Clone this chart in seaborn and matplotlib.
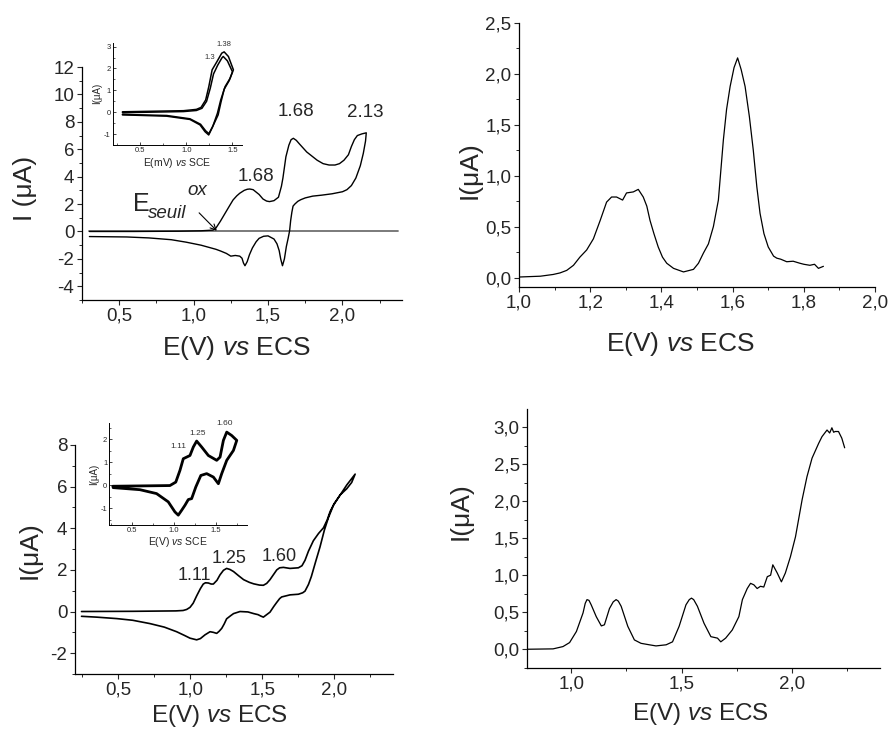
import matplotlib
matplotlib.use("Agg")
import matplotlib.pyplot as plt
from matplotlib.ticker import MultipleLocator, FuncFormatter
import seaborn as sns

# ============================================================================
# DATA
# ============================================================================

# Panel A - cyclic voltammogram (forward scan then return scan)
CV_A_E = [0.30, 0.60, 0.90, 1.05, 1.13, 1.15, 1.18, 1.21, 1.24, 1.265, 1.29, 1.31, 1.34, 1.36,
          1.377, 1.40, 1.44, 1.466, 1.49, 1.51, 1.54, 1.57, 1.59, 1.60, 1.62, 1.64, 1.655, 1.67,
          1.69, 1.71, 1.76, 1.83, 1.87, 1.91, 1.95, 1.98, 2.01, 2.04, 2.06, 2.08, 2.10, 2.13, 2.16,
          2.155, 2.14, 2.12, 2.09, 2.06, 2.03, 2.00, 1.93, 1.86, 1.80, 1.75, 1.72, 1.70, 1.68,
          1.668, 1.66, 1.652, 1.645, 1.635, 1.623, 1.61, 1.597, 1.585, 1.575, 1.56, 1.54, 1.50,
          1.47, 1.44, 1.42, 1.395, 1.375, 1.36, 1.345, 1.335, 1.325, 1.31, 1.28, 1.25, 1.22,
          1.18, 1.15, 1.05, 0.95, 0.85, 0.70, 0.55, 0.30]
CV_A_I = [0.00, 0.00, 0.02, 0.05, 0.10, 0.25, 0.75, 1.30, 1.85, 2.30, 2.60, 2.79, 3.00, 3.08,
          3.10, 3.05, 2.70, 2.37, 2.22, 2.18, 2.25, 2.50, 3.30, 3.90, 5.45, 6.30, 6.70, 6.80,
          6.65, 6.40, 5.80, 5.20, 4.95, 4.85, 4.85, 4.95, 5.20, 5.60, 6.20, 6.70, 7.00, 7.12, 7.20,
          6.60, 5.70, 4.80, 3.90, 3.35, 3.05, 2.90, 2.75, 2.65, 2.58, 2.45, 2.32, 2.20, 2.00,
          1.85, 1.40, 0.80, 0.06, -0.50, -1.10, -2.00, -2.50, -2.00, -1.40, -0.90, -0.55, -0.32,
          -0.35, -0.50, -0.75, -1.20, -1.70, -2.20, -2.50, -2.30, -1.95, -1.80, -1.75, -1.80, -1.60,
          -1.42, -1.30, -1.00, -0.78, -0.60, -0.47, -0.40, -0.37]
ZERO_A_E = [0.30, 2.37]
ZERO_A_I = [0.0, 0.0]

# Panel A inset - two successive scans
INSET_A_E1 = [0.31, 0.97, 1.11, 1.16, 1.21, 1.244, 1.28, 1.33, 1.384, 1.41, 1.456, 1.51,
              1.474, 1.42, 1.373, 1.337, 1.286, 1.243, 1.203, 1.149, 1.04, 0.787, 0.31]
INSET_A_I1 = [0.02, 0.07, 0.13, 0.22, 0.56, 1.17, 1.94, 2.30, 2.70, 2.76, 2.55, 1.94,
              1.55, 1.17, 0.56, -0.05, -0.66, -1.04, -0.89, -0.58, -0.33, -0.18, -0.12]
INSET_A_E2 = [0.31, 0.97, 1.11, 1.17, 1.22, 1.26, 1.295, 1.34, 1.385, 1.40, 1.445, 1.50,
              1.465, 1.41, 1.375, 1.345, 1.29, 1.245, 1.21, 1.155, 1.04, 0.79, 0.31]
INSET_A_I2 = [-0.02, 0.03, 0.08, 0.18, 0.50, 1.10, 1.75, 2.15, 2.48, 2.55, 2.35, 1.85,
              1.45, 1.05, 0.45, -0.12, -0.62, -0.98, -0.85, -0.55, -0.30, -0.15, -0.10]

# Panel B - differential pulse voltammogram
DPV_B_E = [1.00, 1.06, 1.096, 1.115, 1.134, 1.153, 1.171, 1.19, 1.209, 1.228, 1.246, 1.26,
           1.274, 1.291, 1.302, 1.321, 1.335, 1.349, 1.359, 1.368, 1.379, 1.391, 1.403, 1.415,
           1.434, 1.462, 1.49, 1.504, 1.518, 1.532, 1.546, 1.560, 1.574, 1.583, 1.593, 1.604,
           1.614, 1.624, 1.635, 1.647, 1.658, 1.668, 1.677, 1.688, 1.70, 1.715, 1.724, 1.735,
           1.752, 1.77, 1.789, 1.80, 1.817, 1.83, 1.841, 1.855]
DPV_B_I = [0.005, 0.013, 0.03, 0.045, 0.07, 0.12, 0.20, 0.27, 0.38, 0.56, 0.74, 0.79,
           0.79, 0.76, 0.83, 0.84, 0.865, 0.79, 0.70, 0.56, 0.43, 0.30, 0.20, 0.14,
           0.09, 0.055, 0.08, 0.14, 0.24, 0.33, 0.50, 0.76, 1.35, 1.65, 1.875, 2.06,
           2.155, 2.04, 1.875, 1.58, 1.25, 0.89, 0.63, 0.43, 0.30, 0.21, 0.19, 0.18,
           0.155, 0.16, 0.14, 0.13, 0.12, 0.13, 0.09, 0.11]

# Panel C - cyclic voltammogram
CV_C_E = [0.245, 0.60, 0.90, 0.95, 0.975, 0.998, 1.02, 1.044, 1.07, 1.09, 1.105, 1.125,
          1.145, 1.16, 1.185, 1.206, 1.23, 1.252, 1.275, 1.30, 1.335, 1.37, 1.41, 1.44,
          1.48, 1.507, 1.53, 1.553, 1.58, 1.60, 1.62, 1.646, 1.692, 1.75, 1.775, 1.796,
          1.82, 1.854, 1.89, 1.924, 1.95, 1.97, 2.00, 2.04, 2.086, 2.12, 2.144,
          2.086, 2.04, 1.993, 1.958, 1.93, 1.90, 1.87, 1.84, 1.82, 1.796, 1.78, 1.75,
          1.692, 1.634, 1.62, 1.60, 1.58, 1.553, 1.53, 1.507, 1.49, 1.47, 1.44, 1.40,
          1.345, 1.30, 1.28, 1.252, 1.235, 1.218, 1.20, 1.183, 1.16, 1.137, 1.102, 1.07,
          1.044, 0.998, 0.96, 0.905, 0.82, 0.72, 0.60, 0.49, 0.35, 0.245]
CV_C_I = [0.00, 0.01, 0.03, 0.05, 0.10, 0.20, 0.40, 0.75, 1.10, 1.32, 1.38, 1.37,
          1.32, 1.32, 1.50, 1.76, 1.98, 2.07, 2.02, 1.92, 1.72, 1.53, 1.40, 1.33,
          1.27, 1.26, 1.35, 1.53, 1.80, 2.00, 2.10, 2.12, 2.07, 2.10, 2.20, 2.46,
          2.90, 3.40, 3.75, 4.02, 4.40, 4.80, 5.20, 5.60, 5.90, 6.20, 6.60,
          6.08, 5.60, 5.10, 4.50, 3.90, 3.10, 2.40, 1.68, 1.30, 0.98, 0.90, 0.83,
          0.80, 0.70, 0.62, 0.44, 0.25, -0.03, -0.15, -0.27, -0.22, -0.15, -0.10, -0.02,
          0.00, -0.10, -0.20, -0.35, -0.60, -0.81, -0.95, -1.05, -1.00, -0.97, -1.12, -1.30,
          -1.36, -1.28, -1.15, -0.97, -0.75, -0.58, -0.42, -0.34, -0.27, -0.23]

# Panel C inset
INSET_C_E = [0.266, 0.95, 1.02, 1.07, 1.11, 1.15, 1.19, 1.23, 1.27, 1.33, 1.41, 1.51,
             1.55, 1.59, 1.63, 1.69, 1.75,
             1.71, 1.63, 1.57, 1.53, 1.47, 1.39, 1.32, 1.26, 1.21, 1.17, 1.13, 1.09,
             1.05, 1.01, 0.93, 0.79, 0.59, 0.27]
INSET_C_I = [-0.04, -0.01, 0.14, 0.65, 1.16, 1.23, 1.30, 1.67, 1.93, 1.67, 1.30, 1.09,
             1.23, 1.96, 2.32, 2.17, 1.96,
             1.52, 1.09, 0.51, 0.07, 0.36, 0.51, 0.43, -0.07, -0.58, -0.62, -0.87, -1.09,
             -1.30, -1.16, -0.72, -0.36, -0.19, -0.10]

# Panel D - differential pulse voltammogram
DPV_D_E = [0.80, 0.917, 0.962, 0.992, 1.023, 1.053, 1.063, 1.071, 1.08, 1.09, 1.113, 1.136,
           1.15, 1.173, 1.19, 1.203, 1.213, 1.226, 1.256, 1.286, 1.316, 1.354, 1.384, 1.43,
           1.459, 1.489, 1.52, 1.535, 1.545, 1.555, 1.572, 1.602, 1.633, 1.663, 1.678, 1.70,
           1.73, 1.76, 1.776, 1.798, 1.813, 1.828, 1.843, 1.858, 1.873, 1.889, 1.904, 1.914,
           1.934, 1.953, 1.971, 1.994, 2.017, 2.047, 2.069, 2.092, 2.122, 2.137, 2.16, 2.172,
           2.182, 2.19, 2.197, 2.212, 2.227, 2.24]
DPV_D_I = [0.00, 0.005, 0.036, 0.09, 0.24, 0.49, 0.62, 0.67, 0.66, 0.60, 0.44, 0.315,
           0.33, 0.55, 0.64, 0.67, 0.65, 0.58, 0.31, 0.126, 0.08, 0.06, 0.045, 0.06,
           0.10, 0.31, 0.60, 0.67, 0.69, 0.67, 0.58, 0.35, 0.17, 0.15, 0.10, 0.15,
           0.26, 0.44, 0.67, 0.82, 0.89, 0.87, 0.82, 0.85, 0.84, 0.98, 1.00, 1.14,
           1.03, 0.91, 1.03, 1.25, 1.52, 2.02, 2.33, 2.58, 2.78, 2.87, 2.96, 2.92,
           2.99, 2.93, 2.94, 2.94, 2.85, 2.72]

XLABEL = r"E(V) $\mathit{vs}$ ECS"

# ============================================================================
# STYLE
# ============================================================================

sns.set_style("ticks")
plt.rcParams["font.family"] = ["Liberation Sans", "DejaVu Sans"]
plt.rcParams["mathtext.fontset"] = "custom"
plt.rcParams["mathtext.rm"] = "Liberation Sans"
plt.rcParams["mathtext.it"] = "Liberation Sans:italic"
plt.rcParams["axes.unicode_minus"] = False

comma = FuncFormatter(lambda v, p: f"{v:.1f}".replace(".", ","))
integer = FuncFormatter(lambda v, p: f"{v:.0f}")
dot = FuncFormatter(lambda v, p: f"{v:.1f}")

TICK_FS = 13.5
LABEL_FS = 19
LABEL_FS_LOW = 17.5   # bottom row, kept inside the canvas


def style_axis(ax, xmaj, ymaj, xfmt, yfmt, inset=False):
    ax.xaxis.set_major_locator(MultipleLocator(xmaj))
    ax.xaxis.set_minor_locator(MultipleLocator(xmaj / 2))
    ax.yaxis.set_major_locator(MultipleLocator(ymaj))
    ax.yaxis.set_minor_locator(MultipleLocator(ymaj / 2))
    ax.xaxis.set_major_formatter(xfmt)
    ax.yaxis.set_major_formatter(yfmt)
    for s in ["top", "right"]:
        ax.spines[s].set_visible(False)
    for s in ["left", "bottom"]:
        ax.spines[s].set_linewidth(0.9 if not inset else 0.7)
        ax.spines[s].set_color("black")
    if inset:
        ax.tick_params(which="major", direction="in", length=2, width=0.6, labelsize=5.5, pad=1.5)
        ax.tick_params(which="minor", direction="in", length=1.2, width=0.5)
    else:
        ax.tick_params(which="major", direction="out", length=3.5, width=0.8, labelsize=TICK_FS, pad=2)
        ax.tick_params(which="minor", direction="out", length=2, width=0.7)
    ax.patch.set_alpha(0)


fig = plt.figure(figsize=(8.89, 7.31), dpi=100)

# ============================================================================
# PANEL A: CV with inset
# ============================================================================

axA = fig.add_axes([0.0922, 0.5896, 0.36, 0.3187])
sns.lineplot(x=ZERO_A_E, y=ZERO_A_I, sort=False, estimator=None, color="#707070", lw=1.3, ax=axA)
sns.lineplot(x=CV_A_E, y=CV_A_I, sort=False, estimator=None, color="black", lw=1.0, ax=axA)
axA.set_xlim(0.25, 2.40)
axA.set_ylim(-5, 12)
style_axis(axA, 0.5, 2, comma, integer)
axA.set_xlabel(XLABEL, fontsize=LABEL_FS)
axA.set_ylabel("I (μA)", fontsize=LABEL_FS)
axA.xaxis.set_label_coords(0.484, -0.145)
axA.yaxis.set_label_coords(-0.14, 0.48)
axA.text(1.42, 4.0, "1.68", fontsize=13.5, ha="center", va="center")
axA.text(1.686, 8.73, "1.68", fontsize=13.5, ha="center", va="center")
axA.text(2.15, 8.7, "2.13", fontsize=13.5, ha="center", va="center")
axA.text(0.592, 1.5, "E", fontsize=18, ha="left", va="baseline")
axA.text(0.695, 0.97, "seuil", fontsize=13.5, style="italic", ha="left", va="baseline")
axA.text(0.96, 2.67, "ox", fontsize=13.5, style="italic", ha="left", va="baseline")
axA.annotate("", xy=(1.156, 0.05), xytext=(1.037, 1.36),
             arrowprops=dict(arrowstyle="->", lw=0.8, color="black", shrinkA=0, shrinkB=0))

insA = fig.add_axes([0.1268, 0.8016, 0.1451, 0.14])
sns.lineplot(x=INSET_A_E1, y=INSET_A_I1, sort=False, estimator=None, color="black", lw=1.1, ax=insA)
sns.lineplot(x=INSET_A_E2, y=INSET_A_I2, sort=False, estimator=None, color="black", lw=1.1, ax=insA)
insA.set_xlim(0.205, 1.60)
insA.set_ylim(-1.5, 3.18)
style_axis(insA, 0.5, 1, dot, integer, inset=True)
insA.set_xlabel(r"E(mV) $\mathit{vs}$ SCE", fontsize=7.5, labelpad=1)
insA.set_ylabel("I(μA)", fontsize=7, labelpad=1)
insA.text(1.41, 3.09, "1.38", fontsize=5.5, ha="center", va="center", color="#333333")
insA.text(1.25, 2.52, "1.3", fontsize=5.5, ha="center", va="center", color="#333333")

# ============================================================================
# PANEL B: DPV
# ============================================================================

axB = fig.add_axes([0.5838, 0.6078, 0.4005, 0.3611])
sns.lineplot(x=DPV_B_E, y=DPV_B_I, sort=False, estimator=None, color="black", lw=0.9, ax=axB)
axB.set_xlim(1.0, 2.0)
axB.set_ylim(-0.09, 2.5)
style_axis(axB, 0.2, 0.5, comma, comma)
axB.set_xlabel(XLABEL, fontsize=LABEL_FS)
axB.set_ylabel("I(μA)", fontsize=LABEL_FS)
axB.xaxis.set_label_coords(0.452, -0.165)
axB.yaxis.set_label_coords(-0.104, 0.442)

# ============================================================================
# PANEL C: CV with inset
# ============================================================================

axC = fig.add_axes([0.0844, 0.078, 0.3574, 0.3133])
sns.lineplot(x=CV_C_E, y=CV_C_I, sort=False, estimator=None, color="black", lw=1.2, ax=axC)
axC.set_xlim(0.2, 2.405)
axC.set_ylim(-3, 8)
style_axis(axC, 0.5, 2, comma, integer)
axC.set_xlabel(XLABEL, fontsize=LABEL_FS_LOW)
axC.set_ylabel("I(μA)", fontsize=LABEL_FS)
axC.xaxis.set_label_coords(0.456, -0.127)
axC.yaxis.set_label_coords(-0.104, 0.541)
axC.text(1.028, 1.73, "1.11", fontsize=13, ha="center", va="center")
axC.text(1.27, 2.54, "1.25", fontsize=13, ha="center", va="center")
axC.text(1.618, 2.62, "1.60", fontsize=13, ha="center", va="center")

insC = fig.add_axes([0.123, 0.2818, 0.1546, 0.139])
sns.lineplot(x=INSET_C_E, y=INSET_C_I, sort=False, estimator=None, color="black", lw=2.0, ax=insC)
insC.set_xlim(0.225, 1.87)
insC.set_ylim(-1.73, 2.7)
style_axis(insC, 0.5, 1, dot, integer, inset=True)
insC.set_xlabel(r"E(V) $\mathit{vs}$ SCE", fontsize=7.5, labelpad=1)
insC.set_ylabel("I(μA)", fontsize=7, labelpad=1)
insC.text(1.05, 1.7, "1.11", fontsize=6, ha="center", va="center", color="#333333")
insC.text(1.28, 2.25, "1.25", fontsize=6, ha="center", va="center", color="#333333")
insC.text(1.60, 2.68, "1.60", fontsize=6, ha="center", va="center", color="#333333")

# ============================================================================
# PANEL D: DPV
# ============================================================================

axD = fig.add_axes([0.5931, 0.0858, 0.3967, 0.3543])
sns.lineplot(x=DPV_D_E, y=DPV_D_I, sort=False, estimator=None, color="black", lw=0.9, ax=axD)
axD.set_xlim(0.8, 2.4)
axD.set_ylim(-0.257, 3.24)
style_axis(axD, 0.5, 0.5, comma, comma)
axD.xaxis.set_minor_locator(MultipleLocator(0.25))
axD.set_xlabel(XLABEL, fontsize=LABEL_FS_LOW)
axD.set_ylabel("I(μA)", fontsize=LABEL_FS)
axD.xaxis.set_label_coords(0.49, -0.126)
axD.yaxis.set_label_coords(-0.154, 0.605)

plt.savefig("out.png", dpi=100)
plt.close()
